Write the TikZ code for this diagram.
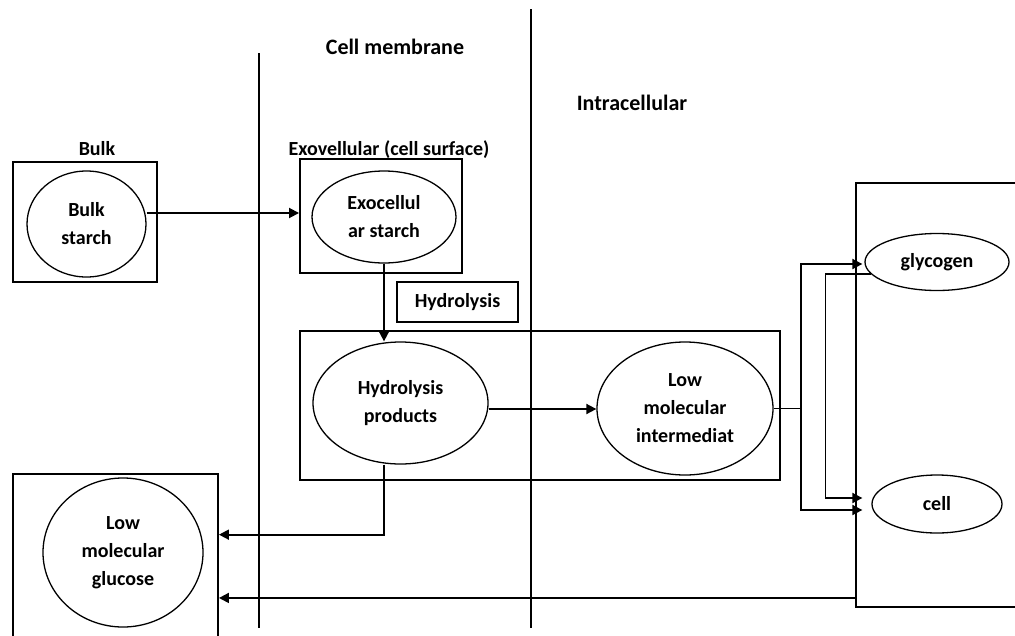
\documentclass[tikz,border=0pt]{standalone}
\usepackage{fontspec}
\setmainfont{Carlito}
\usepackage{tikz}
\usetikzlibrary{shapes.geometric, arrows.meta, positioning}
\tikzstyle{region}  = [rectangle, draw, line width=1.9pt, inner sep=0pt]
\tikzstyle{pool}    = [ellipse, draw, line width=1.3pt, inner sep=0pt, align=center,
                       font=\fontsize{20}{28}\selectfont\bfseries]
\tikzstyle{heading} = [font=\fontsize{20}{24}\selectfont\bfseries, inner sep=0pt]
\tikzstyle{title}   = [font=\fontsize{22}{26}\selectfont\bfseries, inner sep=0pt]
\tikzstyle{arrow}   = [-{Triangle[length=10pt, width=10pt]}, line width=1.8pt]

\begin{document}
\begin{tikzpicture}[x=1pt, y=-1pt]
  \useasboundingbox (0,0) rectangle (1015,635);

  % Zones
  \draw[line width=1.8pt] (259,53) -- (259,628);
  \draw[line width=1.8pt] (531,9) -- (531,628);
  \node[title] (memlbl) at (395,47) {Cell membrane};
  \node[title] (intlbl) at (632,103) {Intracellular};

  % Bulk
  \node[region, minimum width=144pt, minimum height=120pt] (bulkbox) at (85,222) {};
  \node[heading] (bulklbl) at (97,149) {Bulk};
  \node[pool, minimum width=119pt, minimum height=106pt] (bulk) at (86.5,224) {Bulk\\starch};

  % Cell surface
  \node[region, minimum width=162pt, minimum height=114pt] (exobox) at (381,216) {};
  \node[heading] (exolbl) at (389,150) {Exovellular (cell surface)};
  \node[pool, minimum width=144pt, minimum height=92pt] (exo) at (384,217) {Exocellul\\ar starch};
  \node[region, heading, minimum width=121pt, minimum height=40pt] (hydlbl) at (457.5,302) {Hydrolysis};

  % Hydrolysis and uptake
  \node[region, minimum width=480pt, minimum height=149pt] (bigbox) at (540,405.5) {};
  \node[pool, minimum width=175pt, minimum height=122pt] (hp) at (400.5,403) {Hydrolysis\\products};
  \node[pool, minimum width=176pt, minimum height=133pt] (lmi) at (685,408.5) {Low\\molecular\\intermediat};

  % Cell
  \node[region, minimum width=184pt, minimum height=424pt] (rbox) at (948,395) {};
  \node[pool, minimum width=144pt, minimum height=57pt] (gly) at (937,262) {glycogen};
  \node[pool, minimum width=130pt, minimum height=58pt] (cell) at (937,504) {cell};

  % Glucose
  \node[region, minimum width=205pt, minimum height=186pt] (gbox) at (115.5,567) {};
  \node[pool, minimum width=160pt, minimum height=149pt] (glucose) at (123,552.5) {Low\\molecular\\glucose};

  % Arrows
  \draw[arrow] ([yshift=11pt]bulk.east) -- ([yshift=11pt]bulk.east -| exobox.west);
  \draw[arrow] (exo.south) -- (exo.south |- hp.north);
  \draw[arrow] ([yshift=-6pt]hp.east) -- ([yshift=-6pt]hp.east -| lmi.west);
  \draw[line width=1.8pt] (lmi.east) -- ++(27,0) coordinate (fork);
  \draw[arrow] (fork) |- ([xshift=-2pt,yshift=-2pt]gly.west);
  \draw[arrow] (fork) |- ([xshift=-9pt,yshift=-6pt]cell.west);
  \draw[arrow] (gly.190) -- ++(-45,0) |- ([xshift=-9pt,yshift=6pt]cell.west);

  % Return arrows
  \draw[arrow] ([yshift=10pt]rbox.south west) -- ([yshift=10pt]rbox.south west -| gbox.east);
  \draw[arrow] (hp.south -| exo.south) -- ++(0,70) coordinate (drop) -- (drop -| gbox.east);
\end{tikzpicture}
\end{document}
